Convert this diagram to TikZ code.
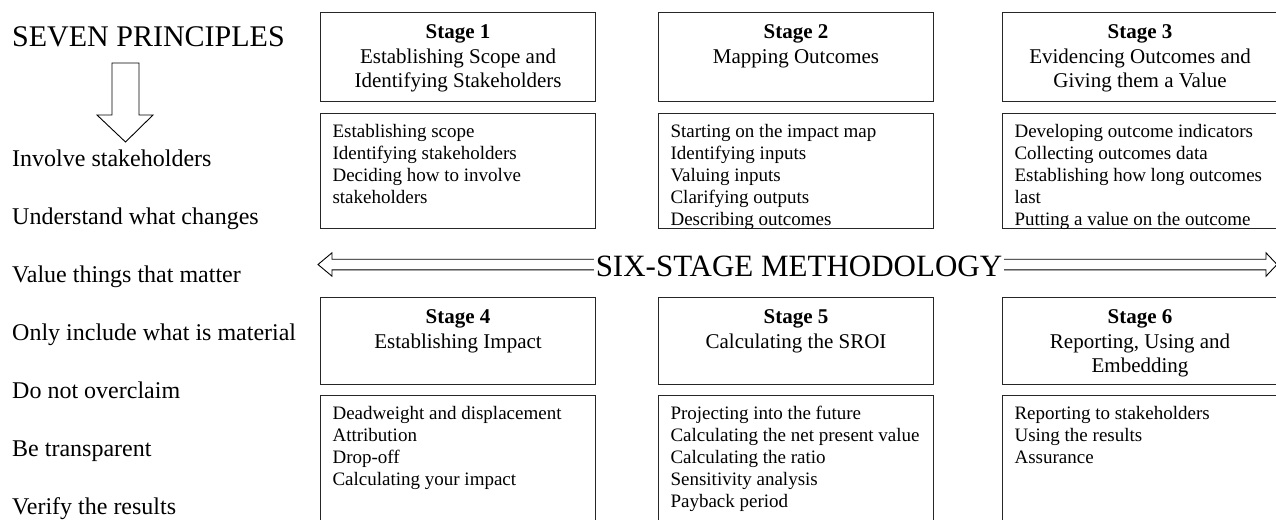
\documentclass[tikz,border=0pt]{standalone}
\usepackage{fontspec}
\setmainfont{Liberation Serif}
\usetikzlibrary{positioning}

\tikzset{
  stagebox/.style={draw=black!85, line width=1.1pt, inner sep=0pt, anchor=north west},
  bigtext/.style={font=\fontsize{30}{36}\selectfont, inner sep=0pt},
  ruletext/.style={font=\fontsize{24}{29}\selectfont, inner sep=0pt, anchor=base west},
  arrowline/.style={draw, line width=0.9pt, line join=miter},
}

\begin{document}
\begin{tikzpicture}[x=1pt,y=-1pt]
\newcommand\StageHead[3]{\parbox[c][#1][t]{275pt}{\vspace*{8.9pt}\centering
  \fontsize{21}{24.5}\selectfont\strut\textbf{Stage #2}\\#3}}
\newcommand\StageList[2]{\parbox[c][#1][t]{275pt}{\vspace*{8.6pt}\raggedright
  \leftskip=12pt\relax\fontsize{19}{22}\selectfont\strut#2}}
\useasboundingbox (0,0) rectangle (1276,519);

\node [bigtext, anchor=base west] (seven) at (12,47) {SEVEN PRINCIPLES};
\draw [arrowline] (112,63) -- (139,63) -- (139,115) -- (153,115) -- (125.5,142)
  -- (97,115) -- (112,115) -- cycle;

\node [ruletext] (p1) at (12,166) {Involve stakeholders};
\node [ruletext] (p2) at (12,224) {Understand what changes};
\node [ruletext] (p3) at (12,282) {Value things that matter};
\node [ruletext] (p4) at (12,340) {Only include what is material};
\node [ruletext] (p5) at (12,398) {Do not overclaim};
\node [ruletext] (p6) at (12,456) {Be transparent};
\node [ruletext] (p7) at (12,514) {Verify the results};

\node [stagebox] (s1) at (320,12) {\StageHead{89pt}{1}{Establishing Scope and\\Identifying Stakeholders}};
\node [stagebox] (s2) at (658,12) {\StageHead{89pt}{2}{Mapping Outcomes}};
\node [stagebox] (s3) at (1002,12) {\StageHead{89pt}{3}{Evidencing Outcomes and\\Giving them a Value}};
\node [stagebox] (s1l) at (320,113) {\StageList{115pt}{Establishing scope\\Identifying stakeholders\\Deciding how to involve\\stakeholders}};
\node [stagebox] (s2l) at (658,113) {\StageList{115pt}{Starting on the impact map\\Identifying inputs\\Valuing inputs\\Clarifying outputs\\Describing outcomes}};
\node [stagebox] (s3l) at (1002,113) {\StageList{115pt}{Developing outcome indicators\\Collecting outcomes data\\Establishing how long outcomes\\last\\Putting a value on the outcome}};

\draw [arrowline] (318,264.5) -- (332,252.8) -- (332,259.2) -- (1266,259.2) -- (1266,252.8)
  -- (1277,264.5) -- (1266,276.2) -- (1266,269.8) -- (332,269.8) -- (332,276.2) -- cycle;
\node [bigtext, font=\fontsize{31}{37}\selectfont, fill=white, inner xsep=1.5pt, anchor=base]
  (method) at (799,276) {SIX-STAGE METHODOLOGY};

\node [stagebox] (s4) at (320,297) {\StageHead{87pt}{4}{Establishing Impact}};
\node [stagebox] (s5) at (658,297) {\StageHead{87pt}{5}{Calculating the SROI}};
\node [stagebox] (s6) at (1002,297) {\StageHead{87pt}{6}{Reporting, Using and\\Embedding}};
\node [stagebox] (s4l) at (320,395) {\StageList{140pt}{Deadweight and displacement\\Attribution\\Drop-off\\Calculating your impact}};
\node [stagebox] (s5l) at (658,395) {\StageList{140pt}{Projecting into the future\\Calculating the net present value\\Calculating the ratio\\Sensitivity analysis\\Payback period}};
\node [stagebox] (s6l) at (1002,395) {\StageList{140pt}{Reporting to stakeholders\\Using the results\\Assurance}};
\end{tikzpicture}
\end{document}
